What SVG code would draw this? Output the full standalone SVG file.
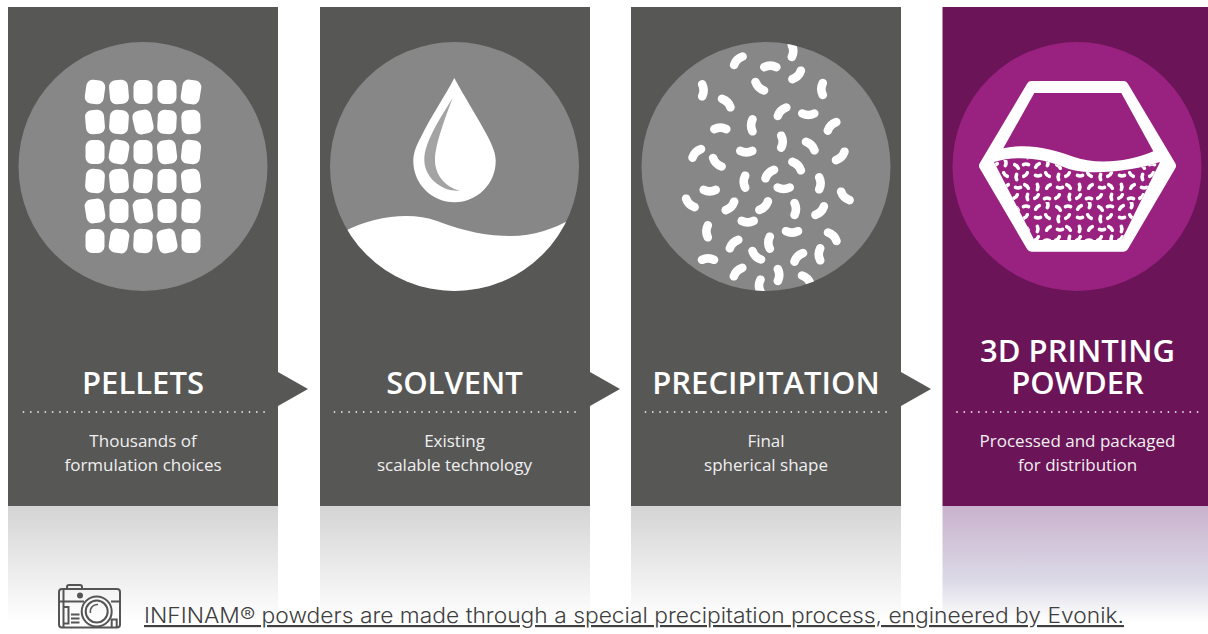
<svg xmlns="http://www.w3.org/2000/svg" xmlns:xlink="http://www.w3.org/1999/xlink" width="1208" height="634" viewBox="0 0 1208 634">
<style>
.p{fill:#575756}.c{fill:#878787}.w{fill:#fff}
.t{font-family:"Open Sans","Noto Sans",sans-serif;font-size:31px;font-weight:600;fill:#fff;text-anchor:middle}
.b{font-family:"Open Sans","Noto Sans",sans-serif;font-size:17px;font-weight:400;fill:#f0f0f0;text-anchor:middle}
.d{stroke:#dcdcdc;stroke-width:1.8;stroke-linecap:round;stroke-dasharray:0 7.29;fill:none}
.cam{fill:none;stroke:#555;stroke-width:2}
</style>
<defs>
<linearGradient id="g" x1="0" y1="0" x2="0" y2="1"><stop offset="0" stop-color="#d4d4d4"/><stop offset="1" stop-color="#fff"/></linearGradient>
<linearGradient id="gp" x1="0" y1="0" x2="0" y2="1"><stop offset="0" stop-color="#c9b2cd"/><stop offset=".65" stop-color="#dcdae7"/><stop offset="1" stop-color="#fff"/></linearGradient>
<clipPath id="c2"><circle cx="454.5" cy="166.5" r="124.5"/></clipPath>
<clipPath id="c3"><circle cx="766" cy="166.5" r="124.5"/></clipPath>
<path id="s" d="M-6,1.5Q0,-1.5 6,1.5" fill="none" stroke="#fff" stroke-width="8.6" stroke-linecap="round"/>
<rect id="pe" x="-9.5" y="-12" width="19" height="24" rx="6.5"/>
<pattern id="pw" width="42" height="42" patternUnits="userSpaceOnUse" patternTransform="translate(990 160)">
<g>
<use xlink:href="#s" transform="translate(5 5) rotate(-45) scale(.42)"/>
<use xlink:href="#s" transform="translate(16 3) rotate(90) scale(.42)"/>
<use xlink:href="#s" transform="translate(27 6) rotate(45) scale(.42)"/>
<use xlink:href="#s" transform="translate(36 4) rotate(0) scale(.42)"/>
<use xlink:href="#s" transform="translate(6 16) rotate(180) scale(.42)"/>
<use xlink:href="#s" transform="translate(15 15) rotate(-135) scale(.42)"/>
<use xlink:href="#s" transform="translate(26 17) rotate(-90) scale(.42)"/>
<use xlink:href="#s" transform="translate(36 15) rotate(135) scale(.42)"/>
<use xlink:href="#s" transform="translate(6 27) rotate(90) scale(.42)"/>
<use xlink:href="#s" transform="translate(16 26) rotate(-45) scale(.42)"/>
<use xlink:href="#s" transform="translate(28 28) rotate(180) scale(.42)"/>
<use xlink:href="#s" transform="translate(37 26) rotate(45) scale(.42)"/>
<use xlink:href="#s" transform="translate(5 37) rotate(135) scale(.42)"/>
<use xlink:href="#s" transform="translate(15 38) rotate(0) scale(.42)"/>
<use xlink:href="#s" transform="translate(26 37) rotate(135) scale(.42)"/>
<use xlink:href="#s" transform="translate(37 37) rotate(-90) scale(.42)"/>
</g>
</pattern>
</defs>
<rect width="1208" height="634" fill="#fff"/>

<g id="node-pellets">
<rect x="8" y="506" width="270" height="116" fill="url(#g)"/>
<rect class="p" x="8" y="7" width="270" height="499"/>
<circle class="c" cx="143" cy="166.5" r="124.5"/>
<g class="w">
<use xlink:href="#pe" transform="translate(95 92) rotate(8)"/><use xlink:href="#pe" transform="translate(119 92) rotate(-5)"/><use xlink:href="#pe" transform="translate(143 92)"/><use xlink:href="#pe" transform="translate(167 92)"/><use xlink:href="#pe" transform="translate(191 92) rotate(9)"/>
<use xlink:href="#pe" transform="translate(95 122) rotate(-5)"/><use xlink:href="#pe" transform="translate(119 122) rotate(4)"/><use xlink:href="#pe" transform="translate(143 122) rotate(-13)"/><use xlink:href="#pe" transform="translate(167 122) rotate(3)"/><use xlink:href="#pe" transform="translate(191 122) rotate(-3)"/>
<use xlink:href="#pe" transform="translate(95 152)"/><use xlink:href="#pe" transform="translate(119 152) rotate(10)"/><use xlink:href="#pe" transform="translate(143 152)"/><use xlink:href="#pe" transform="translate(167 152) rotate(-7)"/><use xlink:href="#pe" transform="translate(191 152) rotate(6)"/>
<use xlink:href="#pe" transform="translate(95 181) rotate(4)"/><use xlink:href="#pe" transform="translate(119 181) rotate(-5)"/><use xlink:href="#pe" transform="translate(143 181) rotate(5)"/><use xlink:href="#pe" transform="translate(167 181)"/><use xlink:href="#pe" transform="translate(191 181) rotate(-6)"/>
<use xlink:href="#pe" transform="translate(95 211) rotate(-9)"/><use xlink:href="#pe" transform="translate(119 211)"/><use xlink:href="#pe" transform="translate(143 211) rotate(-9)"/><use xlink:href="#pe" transform="translate(167 211)"/><use xlink:href="#pe" transform="translate(191 211) rotate(3)"/>
<use xlink:href="#pe" transform="translate(95 241)"/><use xlink:href="#pe" transform="translate(119 241) rotate(9)"/><use xlink:href="#pe" transform="translate(143 241) rotate(3)"/><use xlink:href="#pe" transform="translate(167 241) rotate(-12)"/><use xlink:href="#pe" transform="translate(191 241)"/>
</g>
<text class="t" x="143" y="393.5">PELLETS</text>
<line class="d" x1="23.5" y1="412" x2="265" y2="412"/>
<text class="b" x="143" y="447">Thousands of</text>
<text class="b" x="143" y="470.5">formulation choices</text>
</g>

<g id="node-solvent">
<rect x="320" y="506" width="270" height="116" fill="url(#g)"/>
<rect class="p" x="320" y="7" width="270" height="499"/>
<circle class="c" cx="454.5" cy="166.5" r="124.5"/>
<path class="w" clip-path="url(#c2)" d="M345,231C372,217 410,211 437,221C465,232 490,236 510,236C535,236 552,229 572,219L572,300L340,300Z"/>
<path class="w" d="M454.3,78C445,96 430,118 421,137C416,146 413.3,153 413.3,161C413.3,184 432,202.3 454.5,202.3C477,202.3 495.7,184 495.7,161C495.7,153 492.5,146 488,137C478,118 464,96 454.3,78Z"/>
<path d="M452.7,98C440,118 424,143 424.3,160C424.5,178 442,192 460,190.7C445,187 435,175 435,160C435,145 445,118 452.7,98Z" fill="#a3a3a3"/>
<text class="t" x="454.5" y="393.5">SOLVENT</text>
<line class="d" x1="334.5" y1="412" x2="576" y2="412"/>
<text class="b" x="454.5" y="447">Existing</text>
<text class="b" x="454.5" y="470.5">scalable technology</text>
</g>

<g id="node-precipitation">
<rect x="631" y="506" width="270" height="116" fill="url(#g)"/>
<rect class="p" x="631" y="7" width="270" height="499"/>
<circle class="c" cx="766" cy="166.5" r="124.5"/>
<g clip-path="url(#c3)">
<use xlink:href="#s" transform="translate(737.3 59.7) rotate(-45)"/>
<use xlink:href="#s" transform="translate(770.3 65.7)"/>
<use xlink:href="#s" transform="translate(793.3 51) rotate(90)"/>
<use xlink:href="#s" transform="translate(797.7 76) rotate(135)"/>
<use xlink:href="#s" transform="translate(703.7 90.3) rotate(90)"/>
<use xlink:href="#s" transform="translate(727.3 102) rotate(45)"/>
<use xlink:href="#s" transform="translate(758.7 87.3) rotate(-135)"/>
<use xlink:href="#s" transform="translate(821.3 89) rotate(-90)"/>
<use xlink:href="#s" transform="translate(781 110.7) rotate(-45)"/>
<use xlink:href="#s" transform="translate(808.3 115) rotate(180)"/>
<use xlink:href="#s" transform="translate(831 125.3) rotate(-45)"/>
<use xlink:href="#s" transform="translate(720.3 127.7)"/>
<use xlink:href="#s" transform="translate(751 125.3) rotate(-90)"/>
<use xlink:href="#s" transform="translate(782.7 141.7) rotate(90)"/>
<use xlink:href="#s" transform="translate(811.3 145) rotate(45)"/>
<use xlink:href="#s" transform="translate(695.7 152.3) rotate(-45)"/>
<use xlink:href="#s" transform="translate(746.3 152.3) rotate(180)"/>
<use xlink:href="#s" transform="translate(841.3 157) rotate(135)"/>
<use xlink:href="#s" transform="translate(716.3 163.3) rotate(-135)"/>
<use xlink:href="#s" transform="translate(797.7 165) rotate(45)"/>
<use xlink:href="#s" transform="translate(768.7 173) rotate(-45)"/>
<use xlink:href="#s" transform="translate(743.7 181.7) rotate(-90)"/>
<use xlink:href="#s" transform="translate(820.7 183.3) rotate(90)"/>
<use xlink:href="#s" transform="translate(709.7 191.3) rotate(180)"/>
<use xlink:href="#s" transform="translate(783.7 189) rotate(180)"/>
<use xlink:href="#s" transform="translate(844.3 197) rotate(-135)"/>
<use xlink:href="#s" transform="translate(689.3 204) rotate(-135)"/>
<use xlink:href="#s" transform="translate(731 207) rotate(135)"/>
<use xlink:href="#s" transform="translate(764.7 206.7) rotate(135)"/>
<use xlink:href="#s" transform="translate(796 209) rotate(90)"/>
<use xlink:href="#s" transform="translate(820.7 211.7) rotate(135)"/>
<use xlink:href="#s" transform="translate(747.7 222.3) rotate(180)"/>
<use xlink:href="#s" transform="translate(706.3 231.3) rotate(-90)"/>
<use xlink:href="#s" transform="translate(792 232.7) rotate(180)"/>
<use xlink:href="#s" transform="translate(833.3 235.7) rotate(45)"/>
<use xlink:href="#s" transform="translate(733 243) rotate(-45)"/>
<use xlink:href="#s" transform="translate(768.3 242.7) rotate(-90)"/>
<use xlink:href="#s" transform="translate(708 258.3)"/>
<use xlink:href="#s" transform="translate(755.7 256.3) rotate(-135)"/>
<use xlink:href="#s" transform="translate(797.7 256.3) rotate(-45)"/>
<use xlink:href="#s" transform="translate(818.7 254.3) rotate(-90)"/>
<use xlink:href="#s" transform="translate(737 271) rotate(-45)"/>
<use xlink:href="#s" transform="translate(779.3 275) rotate(90)"/>
<use xlink:href="#s" transform="translate(807.3 278.7) rotate(45)"/>
<use xlink:href="#s" transform="translate(759 285.7) rotate(-90)"/>
</g>
<text class="t" x="766" y="393.5">PRECIPITATION</text>
<line class="d" x1="645.5" y1="412" x2="887" y2="412"/>
<text class="b" x="766" y="447">Final</text>
<text class="b" x="766" y="470.5">spherical shape</text>
</g>

<g id="node-powder">
<rect x="942.5" y="506" width="265.5" height="116" fill="url(#gp)"/>
<rect x="942.5" y="7" width="265.5" height="499" fill="#6b1458"/>
<circle cx="1077" cy="166.5" r="124.5" fill="#992180"/>
<path d="M1031.5,86H1123.5L1171,165.7L1123.5,246.7H1031.5L984,165.7Z" fill="#fff" stroke="#fff" stroke-width="10" stroke-linejoin="round"/>
<path d="M1034.3,93H1121.3L1153.3,151.3C1130,162 1095,165 1073.3,156.7C1050,148 1027,143 1003.3,148.3Z" fill="#992180"/>
<path id="powder-fill" d="M994,162C1017,155 1043,158 1066.7,168.3C1090,177 1136,170 1160,162L1121.7,240H1034.3Z" fill="#992180"/>
<path d="M994,162C1017,155 1043,158 1066.7,168.3C1090,177 1136,170 1160,162L1121.7,240H1034.3Z" fill="url(#pw)"/>
<text class="t" x="1077.5" y="362">3D PRINTING</text>
<text class="t" x="1077.5" y="393.5">POWDER</text>
<line class="d" x1="957" y1="412" x2="1198.5" y2="412"/>
<text class="b" x="1077.5" y="447">Processed and packaged</text>
<text class="b" x="1077.5" y="470.5">for distribution</text>
</g>

<g id="connectors">
<polygon class="p" points="278,372 308,389 278,406"/>
<polygon class="p" points="590,372 620,389 590,406"/>
<polygon class="p" points="901,372 931,389 901,406"/>
</g>

<g id="caption">
<g class="cam">
<rect x="59" y="589" width="61" height="38.5" rx="3"/>
<path d="M67,589V587Q67,585 69,585H80Q82,585 82,587V589"/>
<circle cx="96.7" cy="611.5" r="15"/>
<circle cx="96.7" cy="611.5" r="11"/>
<path d="M90.5,613A7,7 0 0 1 98,604.5" stroke-width="1.5"/>
<path d="M59,601.5H84M111,601.5H120M63.5,589V627M63.5,607H68.5V623.5H63.5M71,614.5H79.5M71,618.5H79.5M71,622.5H79.5M111.7,627V619.5H116.7V627"/>
</g>
<circle cx="80" cy="595.5" r="3" fill="#555"/>
<text x="144" y="623" textLength="980" lengthAdjust="spacingAndGlyphs" font-family="Inter,'Open Sans',sans-serif" font-size="21.5" font-weight="300" fill="#3f3f3f" text-decoration="underline">INFINAM® powders are made through a special precipitation process, engineered by Evonik.</text>
</g>
</svg>
